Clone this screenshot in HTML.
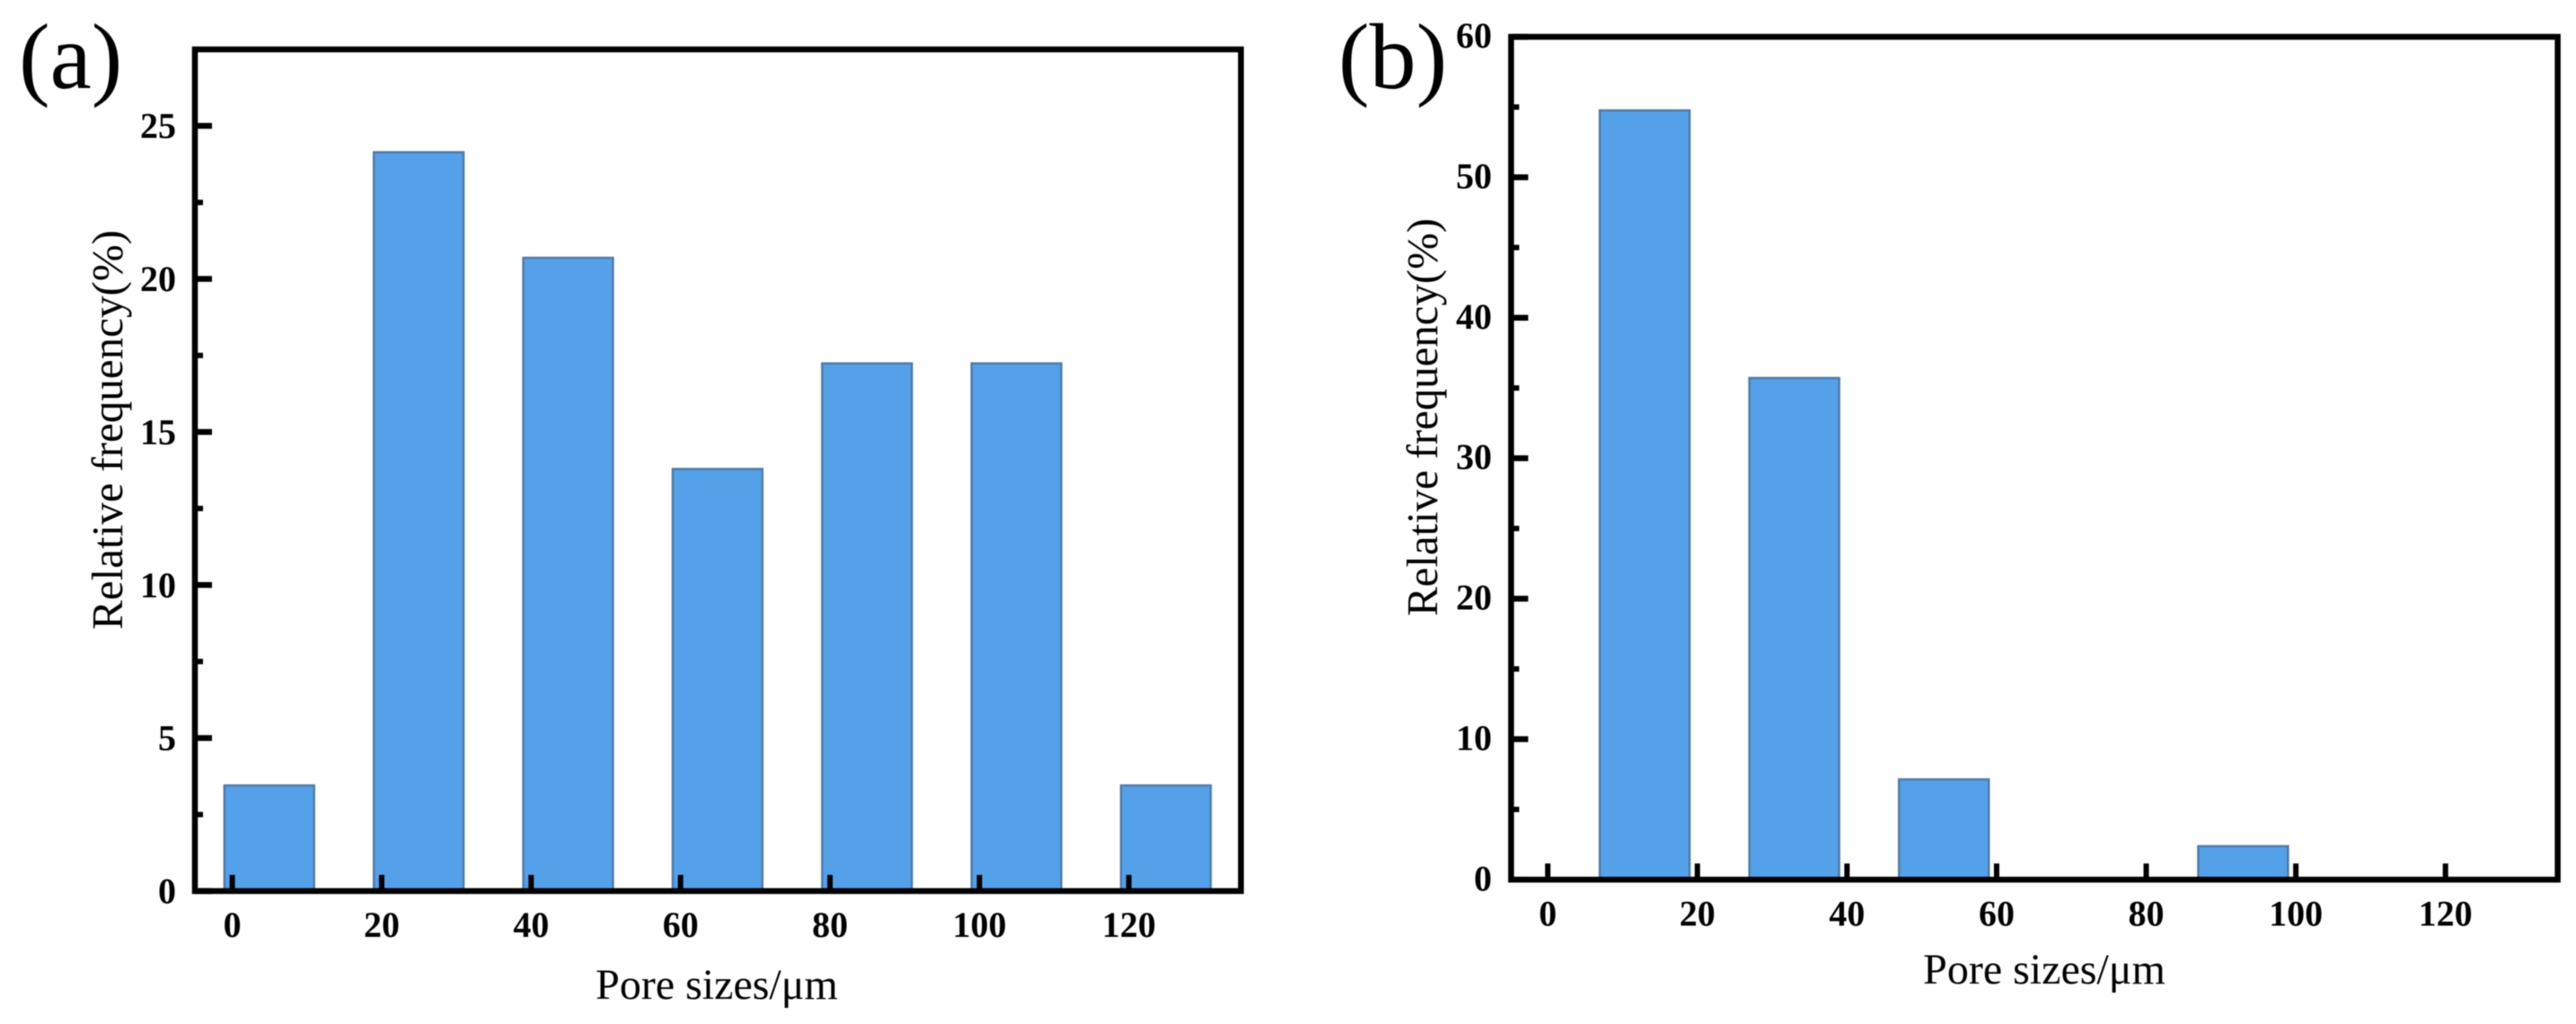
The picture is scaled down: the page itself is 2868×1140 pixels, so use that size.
<!DOCTYPE html>
<html lang="en">
<head>
<meta charset="utf-8">
<title>Pore size distributions</title>
<style>
  html, body { margin: 0; padding: 0; background: #fff; }
  svg { display: block; filter: blur(0.6px); }
  text { font-family: "Liberation Serif", "Times New Roman", serif; fill: #000; }
  .tick-label { font-size: 40px; font-weight: bold; }
  .axis-title { font-size: 48px; }
  .y-title { font-size: 49px; }
  .panel-label { font-size: 104px; }
</style>
</head>
<body>
<svg id="figure" width="2868" height="1140" viewBox="0 0 2868 1140" xmlns="http://www.w3.org/2000/svg">
  <rect x="0" y="0" width="2868" height="1140" fill="#ffffff"/>
  <g id="panel-a"></g>
  <g id="panel-b"></g>
  <text class="panel-label" x="21" y="98">(a)</text>
  <text class="panel-label" x="1490" y="98">(b)</text>
  <text class="axis-title" x="798" y="1112" text-anchor="middle">Pore sizes/μm</text>
  <text class="axis-title" x="2276" y="1095" text-anchor="middle">Pore sizes/μm</text>
  <text class="y-title" transform="translate(136 701) rotate(-90)" textLength="445" lengthAdjust="spacingAndGlyphs">Relative frequency(%)</text>
  <text class="y-title" transform="translate(1600 686) rotate(-90)" textLength="443" lengthAdjust="spacingAndGlyphs">Relative frequency(%)</text>
</svg>
<script>
// Panel (a) data
const panelABinCenters = [5, 25, 45, 65, 85, 105, 125];
const panelAValues = [3.45, 24.14, 20.69, 13.79, 17.24, 17.24, 3.45];
const panelAXTicks = [0, 20, 40, 60, 80, 100, 120];
const panelAYMajorTicks = [0, 5, 10, 15, 20, 25];
const panelAYMinorTicks = [2.5, 7.5, 12.5, 17.5, 22.5];

// Panel (b) data
const panelBBinCenters = [13, 33, 53, 73, 93];
const panelBValues = [54.76, 35.71, 7.14, 0, 2.38];
const panelBXTicks = [0, 20, 40, 60, 80, 100, 120];
const panelBYMajorTicks = [0, 10, 20, 30, 40, 50, 60];
const panelBYMinorTicks = [5, 15, 25, 35, 45, 55];

const SVG_NS = 'http://www.w3.org/2000/svg';

function make(tag, parent, attrs) {
  const el = document.createElementNS(SVG_NS, tag);
  for (const key in attrs) el.setAttribute(key, attrs[key]);
  parent.appendChild(el);
  return el;
}

function drawPanel(cfg) {
  const root = document.getElementById(cfg.id);
  const xScale = v => cfg.x0 + (v - cfg.xMin) * (cfg.x1 - cfg.x0) / (cfg.xMax - cfg.xMin);
  const yScale = v => cfg.y0 - (v - cfg.yMin) * (cfg.y0 - cfg.y1) / (cfg.yMax - cfg.yMin);
  const barWidth = 12;

  cfg.centers.forEach((c, i) => {
    const left = xScale(c - barWidth / 2);
    const right = xScale(c + barWidth / 2);
    const top = yScale(cfg.values[i]);
    const bar = make('rect', root, {
      x: left - 0.4, y: top, width: right - left, height: yScale(0) - top,
      fill: '#55a1e9', stroke: '#4f7ba8', 'stroke-width': 2.5
    });
    
    
  });

  const frame = make('rect', root, {
    x: cfg.x0, y: cfg.y1, width: cfg.x1 - cfg.x0, height: cfg.y0 - cfg.y1,
    fill: 'none', stroke: '#000', 'stroke-width': 6.5
  });
  
  

  cfg.xTicks.forEach(t => {
    const px = xScale(t);
    const tick = make('line', root, { x1: px, x2: px, y1: cfg.y0, y2: cfg.y0 - 18, stroke: '#000', 'stroke-width': 6 });
    
    
    const label = make('text', root, { x: px, y: cfg.xLabelBaseline, 'text-anchor': 'middle', class: 'tick-label' });
    label.textContent = String(t);
    
    
  });

  cfg.yMajor.forEach(t => {
    const py = yScale(t);
    const tick = make('line', root, { x1: cfg.x0, x2: cfg.x0 + 19, y1: py, y2: py, stroke: '#000', 'stroke-width': 6.5 });
    
    
    const label = make('text', root, { x: cfg.yLabelRight, y: py + cfg.yLabelDrop, 'text-anchor': 'end', class: 'tick-label' });
    label.textContent = String(t);
    
    
  });

  cfg.yMinor.forEach(t => {
    const py = yScale(t);
    const tick = make('line', root, { x1: cfg.x0, x2: cfg.x0 + 9, y1: py, y2: py, stroke: '#000', 'stroke-width': 6 });
    
    
  });
}

drawPanel({
  id: 'panel-a',
  centers: panelABinCenters, values: panelAValues,
  xTicks: panelAXTicks, yMajor: panelAYMajorTicks, yMinor: panelAYMinorTicks,
  x0: 217, x1: 1381.6, xMin: -5, xMax: 135,
  y0: 992, y1: 55, yMin: 0, yMax: 27.5,
  xLabelBaseline: 1043, yLabelRight: 196, yLabelDrop: 13.5
});

drawPanel({
  id: 'panel-b',
  centers: panelBBinCenters, values: panelBValues,
  xTicks: panelBXTicks, yMajor: panelBYMajorTicks, yMinor: panelBYMinorTicks,
  x0: 1682.4, x1: 2847.6, xMin: -4.9, xMax: 135,
  y0: 979.3, y1: 41, yMin: 0, yMax: 60,
  xLabelBaseline: 1030.5, yLabelRight: 1661, yLabelDrop: 12
});
</script>
</body>
</html>
